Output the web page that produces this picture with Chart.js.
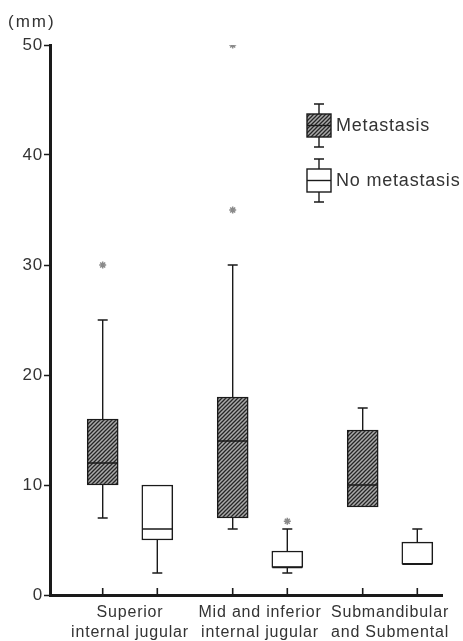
<!DOCTYPE html>
<html>
<head>
<meta charset="utf-8">
<script src="https://cdn.jsdelivr.net/npm/chart.js@4.4.0/dist/chart.umd.min.js"></script>
<style>
  html, body { margin: 0; padding: 0; background: #fff; }
  #wrap { width: 463px; height: 641px; }
</style>
</head>
<body>
<div id="wrap"><canvas id="BoxChart" width="463" height="641"></canvas></div>
<script>
// categories (lymph node level)
var groups = [
  ['Superior', 'internal jugular'],
  ['Mid and inferior', 'internal jugular'],
  ['Submandibular', 'and Submental']
]

// Metastasis boxes
var metMin = [7, 6, 8]
var metQ1 = [10, 7, 8]
var metMed = [12, 14, 10]
var metQ3 = [16, 18, 15]
var metMax = [25, 30, 17]
var metOut = [[30], [35, 50], []]

// No metastasis boxes
var noMin = [2, 2, 2.8]
var noQ1 = [5, 2.5, 2.8]
var noMed = [6, 2.5, 2.8]
var noQ3 = [10, 4, 4.8]
var noMax = [10, 6, 6]
var noOut = [[], [6.7], []]

var yTicks = [0, 10, 20, 30, 40, 50]

var textColor = '#333'
var lineColor = '#1a1a1a'
var shift = 0.21

function hatch(ctx) {
  var c = document.createElement('canvas')
  c.width = 4; c.height = 4
  var g = c.getContext('2d')
  g.fillStyle = '#aaaaaa'
  g.fillRect(0, 0, 4, 4)
  g.strokeStyle = '#262626'
  g.lineWidth = 1.3
  g.beginPath()
  g.moveTo(0, 4); g.lineTo(4, 0)
  g.moveTo(-1, 1); g.lineTo(1, -1)
  g.moveTo(3, 5); g.lineTo(5, 3)
  g.stroke()
  return ctx.createPattern(c, 'repeat')
}

var ctx = document.getElementById('BoxChart').getContext('2d')
var hatchFill = hatch(ctx)

var series = [
  { label: 'Metastasis', off: -shift, min: metMin, q1: metQ1, med: metMed, q3: metQ3, max: metMax, out: metOut, fill: hatchFill },
  { label: 'No metastasis', off: shift, min: noMin, q1: noQ1, med: noMed, q3: noQ3, max: noMax, out: noOut, fill: '#fff' }
]

function boxData(s) {
  return groups.map(function (g, i) { return { x: i + 1 + s.off, y: [s.q1[i], s.q3[i]] } })
}
function outData() {
  var pts = []
  series.forEach(function (s) {
    s.out.forEach(function (arr, i) {
      arr.forEach(function (v) { pts.push({ x: i + 1 + s.off, y: v }) })
    })
  })
  return pts
}

// whiskers, medians, x ticks, legend, unit label
var boxExtras = {
  id: 'boxExtras',
  beforeDraw: function (chart) {
    // the printed labels are a little letter-spaced
    chart.ctx.letterSpacing = '0.8px'
  },
  afterDatasetsDraw: function (chart) {
    var c = chart.ctx, x = chart.scales.x, y = chart.scales.y
    c.save()
    c.strokeStyle = lineColor
    c.lineWidth = 1.4
    series.forEach(function (s) {
      groups.forEach(function (g, i) {
        var cx = x.getPixelForValue(i + 1 + s.off)
        c.beginPath()
        if (s.max[i] > s.q3[i]) {
          c.moveTo(cx, y.getPixelForValue(s.q3[i])); c.lineTo(cx, y.getPixelForValue(s.max[i]))
          c.moveTo(cx - 5, y.getPixelForValue(s.max[i])); c.lineTo(cx + 5, y.getPixelForValue(s.max[i]))
        }
        if (s.min[i] < s.q1[i]) {
          c.moveTo(cx, y.getPixelForValue(s.q1[i])); c.lineTo(cx, y.getPixelForValue(s.min[i]))
          c.moveTo(cx - 5, y.getPixelForValue(s.min[i])); c.lineTo(cx + 5, y.getPixelForValue(s.min[i]))
        }
        c.moveTo(cx - 15, y.getPixelForValue(s.med[i])); c.lineTo(cx + 15, y.getPixelForValue(s.med[i]))
        c.stroke()
        // tick mark on x axis, pointing up
        c.beginPath()
        c.lineWidth = 1.6
        c.moveTo(cx, y.getPixelForValue(0)); c.lineTo(cx, y.getPixelForValue(0) - 7)
        c.stroke()
        c.lineWidth = 1.4
      })
    })

    // legend
    var lx = chart.chartArea.right - 135, ly = chart.chartArea.top + 59
    series.forEach(function (s, k) {
      var top = ly + k * 55
      var cx = lx + 12
      c.beginPath()
      c.moveTo(cx - 5, top); c.lineTo(cx + 5, top)
      c.moveTo(cx, top); c.lineTo(cx, top + 10)
      c.moveTo(cx, top + 33); c.lineTo(cx, top + 43)
      c.moveTo(cx - 5, top + 43); c.lineTo(cx + 5, top + 43)
      c.stroke()
      c.fillStyle = s.fill
      c.fillRect(lx, top + 10, 24, 23)
      c.strokeRect(lx, top + 10, 24, 23)
      c.beginPath()
      c.moveTo(lx, top + 21.5); c.lineTo(lx + 24, top + 21.5)
      c.stroke()
      c.fillStyle = textColor
      c.font = '18px "Liberation Sans", Arial, sans-serif'
      c.letterSpacing = '0.8px'
      c.textBaseline = 'middle'
      c.textAlign = 'left'
      c.fillText(s.label, lx + 29, top + 22)
    })

    // unit label
    c.fillStyle = textColor
    c.font = '17px "Liberation Sans", Arial, sans-serif'
    c.letterSpacing = '2px'
    c.textAlign = 'left'
    c.textBaseline = 'middle'
    c.fillText('(mm)', chart.chartArea.left - 42, chart.chartArea.top - 23)
    c.restore()
  }
}

var BoxChart = new Chart(ctx, {
  type: 'bar',
  data: {
    datasets: [
      {
        label: series[0].label,
        data: boxData(series[0]),
        backgroundColor: hatchFill,
        borderColor: lineColor,
        borderWidth: 1.5,
        borderSkipped: false,
        barThickness: 31,
        order: 1
      },
      {
        label: series[1].label,
        data: boxData(series[1]),
        backgroundColor: '#fff',
        borderColor: lineColor,
        borderWidth: 1.5,
        borderSkipped: false,
        barThickness: 31,
        order: 1
      },
      {
        type: 'scatter',
        label: 'outliers',
        data: outData(),
        pointStyle: 'star',
        radius: 3.5,
        borderColor: '#8a8a8a',
        borderWidth: 1.5,
        order: 0
      }
    ]
  },
  options: {
    animation: false,
    responsive: false,
    grouped: false,
    layout: { padding: { left: 0, right: 21, top: 45, bottom: 0 } },
    plugins: {
      legend: { display: false },
      tooltip: { enabled: false }
    },
    scales: {
      x: {
        type: 'linear',
        min: 1 - 80 / 130,
        max: 1 - 80 / 130 + 392 / 130,
        offset: false,
        grid: { display: false },
        border: { display: true, width: 3, color: lineColor },
        afterBuildTicks: function (scale) {
          scale.ticks = groups.map(function (g, i) { return { value: i + 1 } })
        },
        afterFit: function (scale) { scale.height = 46 },
        ticks: {
          autoSkip: false,
          maxRotation: 0,
          padding: 0,
          color: textColor,
          font: { family: '"Liberation Sans", Arial, sans-serif', size: 16, lineHeight: 1.25 },
          callback: function (v) { return groups[Math.round(v) - 1] }
        }
      },
      y: {
        min: 0,
        max: 50,
        afterBuildTicks: function (scale) {
          scale.ticks = yTicks.map(function (v) { return { value: v } })
        },
        afterFit: function (scale) { scale.width = 50 },
        grid: { drawOnChartArea: false, tickLength: 6, tickWidth: 1.5, tickColor: lineColor },
        border: { display: true, width: 3, color: lineColor },
        ticks: {
          padding: 1,
          color: textColor,
          font: { family: '"Liberation Sans", Arial, sans-serif', size: 17 }
        }
      }
    }
  },
  plugins: [boxExtras]
})
</script>
</body>
</html>
